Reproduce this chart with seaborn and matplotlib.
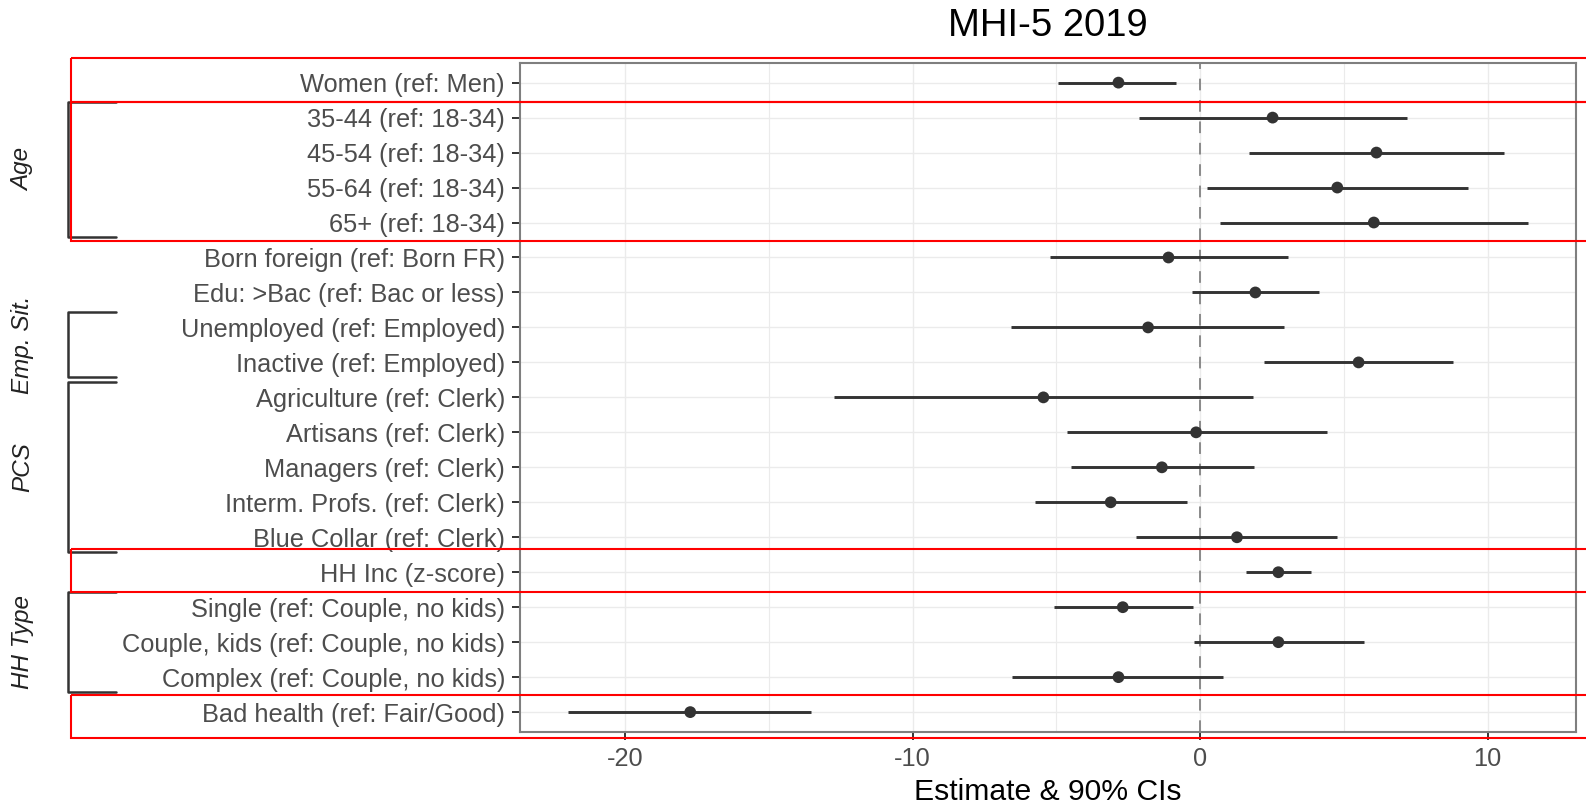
import numpy as np
import pandas as pd
import matplotlib.pyplot as plt
import matplotlib.transforms as mtransforms
from matplotlib.patches import Rectangle
import seaborn as sns

# Model terms (top to bottom) with point estimates and 90% CIs
terms = [
    "Women (ref: Men)",
    "35-44 (ref: 18-34)",
    "45-54 (ref: 18-34)",
    "55-64 (ref: 18-34)",
    "65+ (ref: 18-34)",
    "Born foreign (ref: Born FR)",
    "Edu: >Bac (ref: Bac or less)",
    "Unemployed (ref: Employed)",
    "Inactive (ref: Employed)",
    "Agriculture (ref: Clerk)",
    "Artisans (ref: Clerk)",
    "Managers (ref: Clerk)",
    "Interm. Profs. (ref: Clerk)",
    "Blue Collar (ref: Clerk)",
    "HH Inc (z-score)",
    "Single (ref: Couple, no kids)",
    "Couple, kids (ref: Couple, no kids)",
    "Complex (ref: Couple, no kids)",
    "Bad health (ref: Fair/Good)",
]
estimate = [-2.84, 2.52, 6.13, 4.77, 6.04, -1.10, 1.92, -1.81, 5.51, -5.45,
            -0.14, -1.33, -3.11, 1.28, 2.72, -2.69, 2.72, -2.84, -17.73]
ci_low = [-4.94, -2.12, 1.70, 0.23, 0.68, -5.23, -0.29, -6.58, 2.23, -12.72,
          -4.64, -4.49, -5.75, -2.22, 1.60, -5.09, -0.21, -6.53, -21.98]
ci_high = [-0.85, 7.20, 10.58, 9.32, 11.41, 3.05, 4.15, 2.92, 8.80, 1.85,
           4.41, 1.88, -0.44, 4.77, 3.87, -0.26, 5.69, 0.81, -13.53]

# variable groups: label, first term, last term
groups = [("Age", 1, 4), ("Emp. Sit.", 7, 8), ("PCS", 9, 13), ("HH Type", 15, 17)]
# red highlight boxes (row spans)
highlight_spans = [(-0.70, 0.54), (0.54, 4.54), (13.34, 14.57), (17.50, 18.74)]

df = pd.DataFrame({"term": terms, "estimate": estimate,
                   "low": ci_low, "high": ci_high})
df["pos"] = np.arange(len(df))

sns.set_theme(style="white")
plt.rcParams["font.family"] = ["Liberation Sans", "DejaVu Sans"]
plt.rcParams["axes.unicode_minus"] = False

W, H = 1586, 806
fig = plt.figure(figsize=(W / 100, H / 100), dpi=100)
ax = fig.add_axes([520 / W, 1 - 731.7 / H, (1576 - 520) / W, (731.7 - 62.7) / H])

ax.set_xlim(-23.65, 13.07)
ax.set_ylim(len(df) - 1 + 0.56, -0.57)

ax.set_xticks([-20, -10, 0, 10])
ax.set_xticks([-15, -5, 5], minor=True)
ax.set_yticks(df["pos"])
ax.set_yticklabels(df["term"])
ax.grid(which="major", color="#ebebeb", lw=1.0)
ax.grid(which="minor", axis="x", color="#ebebeb", lw=0.8)
ax.set_axisbelow(True)

ax.axvline(0, color="#8a8a8a", lw=1.4, ls=(0, (6, 5)), zorder=1)
ax.hlines(df["pos"], df["low"], df["high"], color="#333333", lw=2.1, zorder=2)
sns.scatterplot(data=df, x="estimate", y="pos", color="#333333", s=72,
                edgecolor="none", ax=ax, zorder=3)

for s in ax.spines.values():
    s.set_color("#7f7f7f")
    s.set_linewidth(1.5)

ax.tick_params(axis="both", which="major", length=5.8, width=1.4, pad=5,
               color="#333333", labelcolor="#4d4d4d", labelsize=18.3,
               bottom=True, left=True)
ax.tick_params(axis="x", which="minor", length=0)
ax.set_ylabel("")
ax.set_xlabel("Estimate & 90% CIs", fontsize=21.7, color="black", labelpad=5)

fig.text(1048 / W, 1 - 36 / H, "MHI-5 2019", ha="center", va="baseline",
         fontsize=27.5, color="black")

trans = mtransforms.blended_transform_factory(fig.transFigure, ax.transData)

# group brackets and labels
for label, first, last in groups:
    y0, y1 = first - 0.44, last + 0.42
    ax.plot([116 / W, 68 / W, 68 / W, 116 / W], [y0, y0, y1, y1],
            color="#333333", lw=1.8, transform=trans, clip_on=False)
    ax.text(23 / W, (y0 + y1) / 2, label, rotation=90, style="italic",
            ha="center", va="center", fontsize=17.5, color="#222222",
            transform=trans)

# red highlight boxes
for top, bottom in highlight_spans:
    ax.add_patch(Rectangle((71 / W, top), 1.1, bottom - top, fill=False,
                           edgecolor="red", lw=1.5, transform=trans,
                           clip_on=False, zorder=5))

fig.savefig("out.png", dpi=100)
